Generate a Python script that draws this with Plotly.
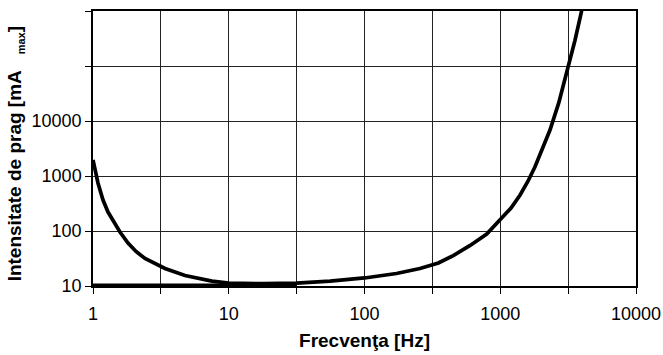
import plotly.graph_objects as go

# Threshold curve
freq = [1, 1.088, 1.185, 1.29, 1.428, 1.58, 1.811, 2.074, 2.416, 2.862, 3.392, 4.762, 7.526, 10, 18, 31.6, 55.7, 100, 172, 256, 350, 451, 600, 795, 1000, 1200, 1400, 1600, 1800, 2050, 2325, 2700, 3160, 3550, 3935, 4100]
current = [1954, 746, 366, 221, 146, 96, 60.5, 42.4, 31.6, 25.1, 20.8, 15.5, 12.3, 11.3, 11.0, 11.3, 12.3, 14.0, 16.9, 20.8, 26.2, 35.8, 54.6, 88, 158, 262, 452, 804, 1459, 3055, 6860, 21550, 90700, 291500, 897000, 1440000]

# Flat base line at low frequencies
base_freq = [1, 31.6]
base_current = [10.35, 10.35]

x_tickvals = [1, 3.1623, 10, 31.623, 100, 316.23, 1000, 3162.3, 10000]
x_ticktext = ["1", "", "10", "", "100", "", "1000", "", "10000"]
y_tickvals = [10, 100, 1000, 10000, 100000, 1000000]
y_ticktext = ["10", "100", "1000", "10000", "", ""]

fig = go.Figure()
fig.add_trace(go.Scatter(x=base_freq, y=base_current, mode="lines",
                         line=dict(color="black", width=3.5), showlegend=False))
fig.add_trace(go.Scatter(x=freq, y=current, mode="lines",
                         line=dict(color="black", width=3.7),
                         showlegend=False))

font_family = "Liberation Sans, Arial, sans-serif"

fig.update_layout(
    width=663, height=355,
    margin=dict(l=93, r=27, t=11, b=69),
    paper_bgcolor="white", plot_bgcolor="white",
    font=dict(family=font_family, size=18, color="black"),
    showlegend=False,
    xaxis=dict(
        type="log", range=[0, 4], automargin=False,
        tickmode="array", tickvals=x_tickvals, ticktext=x_ticktext,
        showgrid=True, gridcolor="#222222", gridwidth=1,
        showline=True, linecolor="black", linewidth=1.5, mirror=True,
        ticks="outside", ticklen=6, tickcolor="black", tickwidth=1,
        tickfont=dict(size=18), ticklabelstandoff=5,
        title=dict(text="<b>Frecvenţa [Hz]</b>", font=dict(size=19), standoff=10),
        zeroline=False,
    ),
    yaxis=dict(
        type="log", range=[1, 6], automargin=False,
        tickmode="array", tickvals=y_tickvals, ticktext=y_ticktext,
        showgrid=True, gridcolor="#222222", gridwidth=1,
        showline=True, linecolor="black", linewidth=1.5, mirror=True,
        ticks="outside", ticklen=6, tickcolor="black", tickwidth=1,
        tickfont=dict(size=18),
        zeroline=False,
    ),
    annotations=[dict(
        text="<b>Intensitate de prag [mA&nbsp;&nbsp;&nbsp;<sub><span style='font-size:11px'>max</span></sub>]</b>",
        xref="paper", yref="paper", x=-0.142, y=0.482,
        xanchor="center", yanchor="middle", textangle=-90, showarrow=False,
        font=dict(family=font_family, size=19, color="black"),
    )],
)

fig.write_html("out.html")
